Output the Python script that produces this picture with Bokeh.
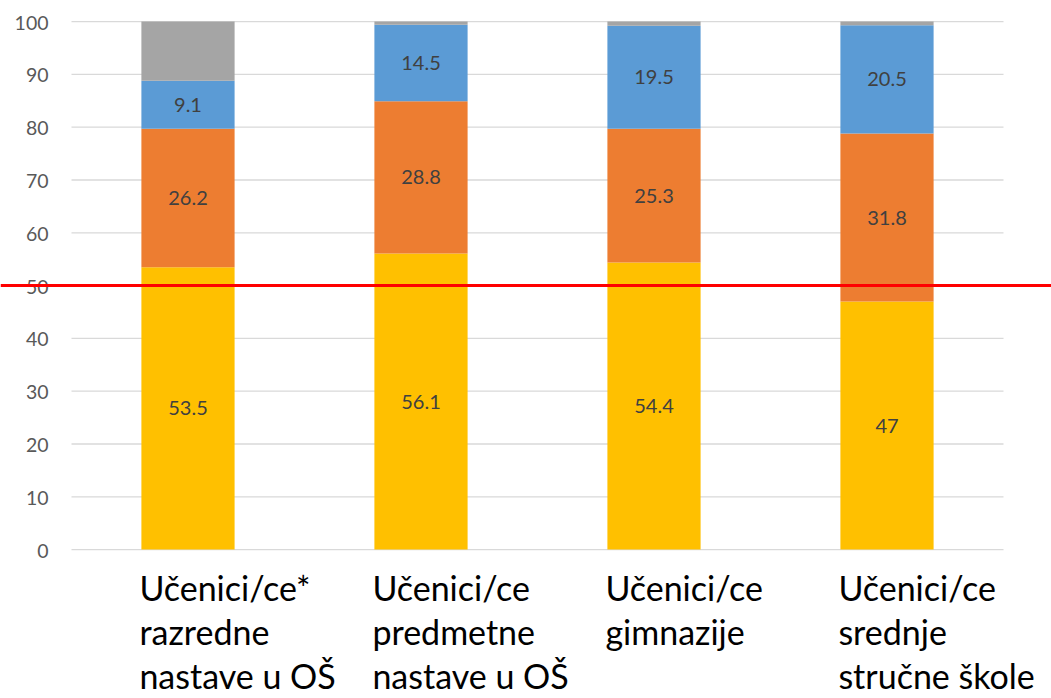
from bokeh.plotting import figure
from bokeh.models import ColumnDataSource, Range1d, Span
from bokeh.core.properties import value
from bokeh.embed import file_html
from bokeh.resources import INLINE

categories = [
    "Učenici/ce*\nrazredne\nnastave u OŠ",
    "Učenici/ce\npredmetne\nnastave u OŠ",
    "Učenici/ce\ngimnazije",
    "Učenici/ce\nsrednje\nstručne škole",
]
series_names = ["s1", "s2", "s3", "s4"]
s1 = [53.5, 56.1, 54.4, 47]
s2 = [26.2, 28.8, 25.3, 31.8]
s3 = [9.1, 14.5, 19.5, 20.5]
s4 = [11.2, 0.6, 0.8, 0.7]
colors = ["#FFC000", "#ED7D31", "#5B9BD5", "#A5A5A5"]
labelled = [True, True, True, False]
y_ticks = [0, 10, 20, 30, 40, 50, 60, 70, 80, 90, 100]
threshold = 50

FONT = "Lato"
n = len(categories)
xs = list(range(n))
series = [s1, s2, s3, s4]

p = figure(
    width=1051, height=698,
    x_range=Range1d(-0.8047, 3.706),
    y_range=Range1d(-28.2, 104.0),
    output_backend="svg", toolbar_location=None,
    x_axis_location=None, y_axis_location=None,
    min_border_left=0, min_border_right=0, min_border_top=0, min_border_bottom=0,
)
p.outline_line_color = None
p.grid.visible = False
p.background_fill_color = "white"

# gridlines across the category area
p.segment(x0=[-0.5] * len(y_ticks), x1=[n - 0.5] * len(y_ticks), y0=y_ticks, y1=y_ticks,
          line_color="#D9D9D9", line_width=1.3)

# y tick labels
p.text(x=[-0.5] * len(y_ticks), y=y_ticks, text=[str(t) for t in y_ticks],
       text_font=value(FONT), text_font_size="19.5px", text_color="#595959",
       text_align="right", text_baseline="middle", x_offset=-23, y_offset=1)

data = {"x": xs}
for name, vals in zip(series_names, series):
    data[name] = vals
src = ColumnDataSource(data)
p.vbar_stack(series_names, x="x", width=0.4, source=src, color=colors, line_width=0)

# value labels at segment centers
lx, ly, lt = [], [], []
base = [0.0] * n
for vals, show in zip(series, labelled):
    for i, v in enumerate(vals):
        if show:
            lx.append(i)
            ly.append(base[i] + v / 2)
            lt.append(f"{v:g}")
        base[i] += v
p.text(x=lx, y=ly, text=lt, text_font=value(FONT), text_font_size="20px",
       text_color="#404040", text_align="center", text_baseline="middle")

# category labels
p.text(x=[i - 0.2 for i in xs], y=[0] * n, text=categories,
       text_font=value(FONT), text_font_size="34px", text_color="#000000",
       text_align="left", text_baseline="top", text_line_height=1.08, y_offset=17,
       x_offset=-2)

p.add_layout(Span(location=threshold, dimension="width", line_color="#FF0000", line_width=3))

open("out.html", "w").write(file_html(p, INLINE))
